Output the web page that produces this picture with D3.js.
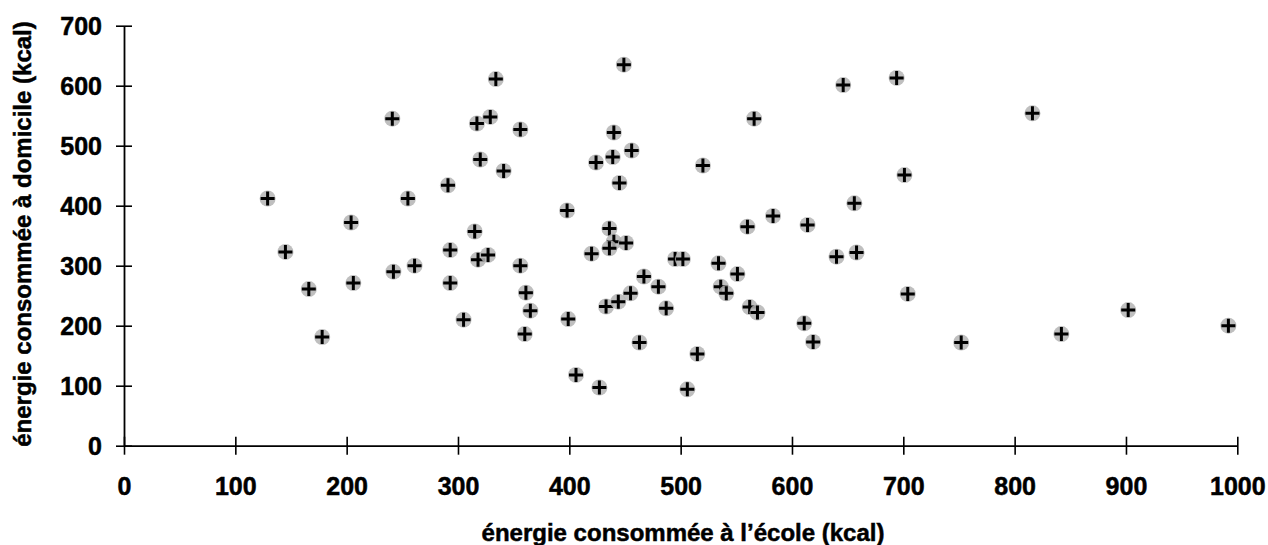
<!DOCTYPE html>
<html>
<head>
<meta charset="utf-8">
<script src="https://cdn.jsdelivr.net/npm/d3@7"></script>
<style>
  body { margin: 0; background: #fff; }
  text { font-family: "Liberation Sans", Arial, sans-serif; font-weight: bold; fill: #000; stroke: #000; stroke-width: 0.5px; }
</style>
</head>
<body>
<div id="chart"></div>
<script>
// energie a l'ecole (x) et a domicile (y), en kcal
const ecole = [129, 145, 166, 178, 204, 206, 241, 242, 255, 261, 291, 293, 293, 305, 315, 317, 320, 318, 327, 329,
  334, 341, 356, 356, 361, 365, 360, 398, 399, 406, 420, 424, 427, 433, 436, 439, 440, 445, 440, 436,
  444, 451, 449, 455, 456, 463, 467, 480, 487, 495, 502, 506, 515, 520, 534, 536, 541, 551, 560, 562,
  566, 569, 583, 611, 614, 619, 640, 646, 656, 658, 694, 701, 704, 752, 816, 842, 902, 992];
const domicile = [412, 323, 261, 181, 372, 271, 545, 290, 412, 300, 434, 326, 271, 210, 357, 537, 477, 310, 318, 548,
  611, 458, 527, 300, 255, 225, 186, 392, 211, 118, 320, 472, 97, 232, 362, 481, 522, 438, 340, 329,
  240, 338, 635, 254, 492, 172, 282, 265, 229, 311, 311, 94, 153, 467, 304, 265, 254, 286, 365, 231,
  545, 222, 383, 204, 368, 173, 315, 601, 404, 322, 613, 451, 253, 172, 554, 186, 226, 200];
const xTicks = [0, 100, 200, 300, 400, 500, 600, 700, 800, 900, 1000];
const yTicks = [0, 100, 200, 300, 400, 500, 600, 700];

const width = 1268, height = 545;
const margin = { top: 25.7, right: 30.7, bottom: 99.3, left: 124 };

const svg = d3.select("#chart").append("svg")
  .attr("width", width)
  .attr("height", height);

const x = d3.scaleLinear().domain([0, 1000]).range([margin.left, width - margin.right]);
const y = d3.scaleLinear().domain([0, 700]).range([height - margin.bottom, margin.top]);

// x axis, ticks crossing the line
const xAxis = svg.append("g")
  .attr("transform", `translate(0, ${y(0)})`)
  .call(d3.axisBottom(x).tickValues(xTicks).tickSize(9).tickSizeOuter(0).tickPadding(0).tickFormat(d3.format("d")));
xAxis.select(".domain").attr("stroke-width", 1.8);
xAxis.selectAll(".tick line").attr("y1", -9).attr("stroke-width", 1.6);
xAxis.selectAll(".tick text")
  .attr("y", 49).attr("dy", null)
  .attr("font-size", "25px")
  .attr("font-family", "Liberation Sans, Arial, sans-serif")
  .attr("font-weight", "bold");

// y axis
const yAxis = svg.append("g")
  .attr("transform", `translate(${x(0)}, 0)`)
  .call(d3.axisLeft(y).tickValues(yTicks).tickSize(8).tickSizeOuter(0).tickPadding(0));
yAxis.select(".domain").attr("stroke-width", 1.8);
yAxis.selectAll(".tick line").attr("x1", 8).attr("x2", -8).attr("stroke-width", 1.6);
yAxis.selectAll(".tick text")
  .attr("x", -22).attr("dy", "0.36em")
  .attr("font-size", "25px")
  .attr("font-family", "Liberation Sans, Arial, sans-serif")
  .attr("font-weight", "bold");

// points: black cross with a grey halo
const pts = svg.append("g").selectAll("g")
  .data(ecole.map((d, i) => ({ x: d, y: domicile[i] })))
  .join("g")
  .attr("transform", d => `translate(${x(d.x)}, ${y(d.y)})`);

pts.append("circle")
  .attr("r", 8)
  .attr("fill", "#b4b4b4")
  .attr("opacity", 0.85);

pts.append("path")
  .attr("d", "M-7,0H7M0,-7V7")
  .attr("stroke", "#000")
  .attr("stroke-width", 3);

// axis titles
svg.append("text")
  .attr("x", 683)
  .attr("y", 541)
  .attr("text-anchor", "middle")
  .attr("font-size", "24px")
  .text("énergie consommée à l’école (kcal)");

svg.append("text")
  .attr("transform", "translate(31, 234) rotate(-90)")
  .attr("text-anchor", "middle")
  .attr("font-size", "24px")
  .text("énergie consommée à domicile (kcal)");
</script>
</body>
</html>
